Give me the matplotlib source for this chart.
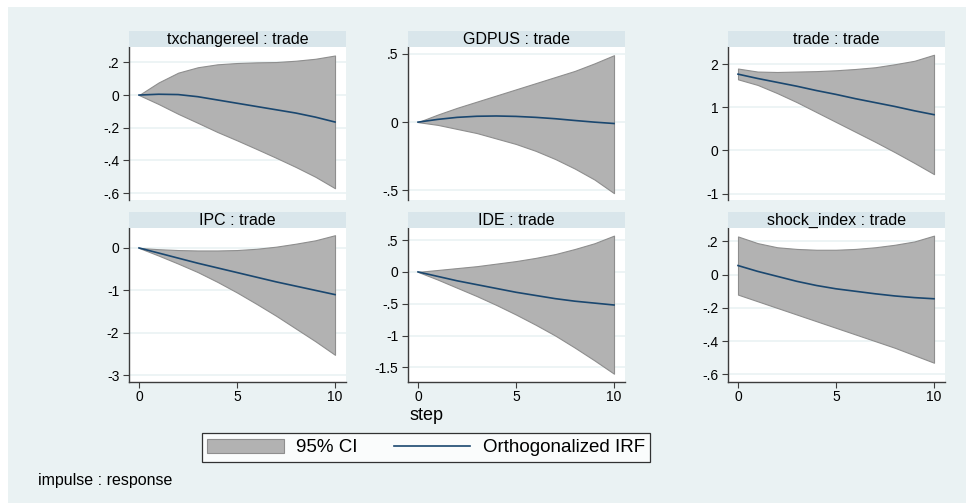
import numpy as np
import matplotlib
matplotlib.use('Agg')
import matplotlib.pyplot as plt
from matplotlib.patches import Rectangle, Patch
from matplotlib.lines import Line2D

plt.rcParams['font.family'] = ['Liberation Sans', 'DejaVu Sans']

#%% data
steps = list(range(11))
titles = ['txchangereel : trade', 'GDPUS : trade', 'trade : trade',
          'IPC : trade', 'IDE : trade', 'shock_index : trade']

txch_irf = [0, 0.005, 0.003, -0.01, -0.03, -0.05, -0.07, -0.09, -0.11, -0.135, -0.165]
txch_lo = [0, -0.055, -0.115, -0.17, -0.226, -0.277, -0.33, -0.384, -0.44, -0.5, -0.57]
txch_hi = [0, 0.077, 0.137, 0.17, 0.188, 0.196, 0.2, 0.202, 0.21, 0.222, 0.242]

gdp_irf = [0, 0.02, 0.035, 0.043, 0.045, 0.042, 0.035, 0.025, 0.012, 0.0, -0.01]
gdp_lo = [0, -0.02, -0.05, -0.08, -0.12, -0.16, -0.21, -0.27, -0.34, -0.42, -0.52]
gdp_hi = [0, 0.055, 0.105, 0.15, 0.195, 0.24, 0.285, 0.33, 0.375, 0.43, 0.49]

trade_irf = [1.77, 1.67, 1.58, 1.49, 1.39, 1.30, 1.20, 1.11, 1.02, 0.92, 0.83]
trade_lo = [1.65, 1.52, 1.33, 1.12, 0.89, 0.66, 0.43, 0.20, -0.04, -0.29, -0.55]
trade_hi = [1.90, 1.83, 1.82, 1.83, 1.84, 1.86, 1.89, 1.93, 2.00, 2.08, 2.22]

ipc_irf = [0, -0.12, -0.24, -0.36, -0.47, -0.58, -0.69, -0.80, -0.90, -1.0, -1.1]
ipc_lo = [0, -0.18, -0.37, -0.57, -0.80, -1.05, -1.32, -1.60, -1.90, -2.20, -2.52]
ipc_hi = [0, -0.03, -0.05, -0.06, -0.06, -0.05, -0.02, 0.03, 0.10, 0.18, 0.30]

ide_irf = [0, -0.07, -0.14, -0.20, -0.26, -0.32, -0.37, -0.42, -0.46, -0.49, -0.52]
ide_lo = [0, -0.12, -0.25, -0.38, -0.52, -0.67, -0.83, -1.0, -1.19, -1.39, -1.6]
ide_hi = [0, 0.03, 0.06, 0.09, 0.13, 0.17, 0.22, 0.28, 0.36, 0.45, 0.57]

shock_irf = [0.055, 0.02, -0.01, -0.04, -0.065, -0.085, -0.1, -0.115, -0.128, -0.138, -0.145]
shock_lo = [-0.12, -0.16, -0.2, -0.24, -0.28, -0.32, -0.36, -0.40, -0.44, -0.485, -0.53]
shock_hi = [0.23, 0.19, 0.165, 0.155, 0.15, 0.15, 0.155, 0.165, 0.18, 0.2, 0.235]

yticks = [[0.2, 0, -0.2, -0.4, -0.6], [0.5, 0, -0.5], [2, 1, 0, -1],
          [0, -1, -2, -3], [0.5, 0, -0.5, -1, -1.5], [0.2, 0, -0.2, -0.4, -0.6]]
yticklabels = [['.2', '0', '-.2', '-.4', '-.6'], ['.5', '0', '-.5'], ['2', '1', '0', '-1'],
               ['0', '-1', '-2', '-3'], ['.5', '0', '-.5', '-1', '-1.5'],
               ['.2', '0', '-.2', '-.4', '-.6']]
ylims = [(-0.642, 0.294), (-0.57, 0.55), (-1.15, 2.4),
         (-3.16, 0.47), (-1.73, 0.69), (-0.646, 0.281)]
xticks = [0, 5, 10]

irfs = [txch_irf, gdp_irf, trade_irf, ipc_irf, ide_irf, shock_irf]
los = [txch_lo, gdp_lo, trade_lo, ipc_lo, ide_lo, shock_lo]
his = [txch_hi, gdp_hi, trade_hi, ipc_hi, ide_hi, shock_hi]

#%% colours (stata s2color look)
bg_col = '#EAF2F3'
strip_col = '#D9E6EB'
band_col = '#B2B2B2'
band_edge = '#8E8E8E'
line_col = '#1A476F'
axis_col = '#3C3C3C'

W, H = 966, 503
fig = plt.figure(figsize=(W / 100, H / 100), dpi=100)
fig.patch.set_facecolor('white')
fig.patches.append(Rectangle((8 / W, 0), 1 - 8 / W, 1 - 7 / H, transform=fig.transFigure,
                             facecolor=bg_col, edgecolor='none', zorder=-10))

col_x = [(129, 346), (408, 625), (728, 945)]
row_y = [(47, 200), (228, 382)]
strip_h = 16

for i in range(6):
    r, c = divmod(i, 3)
    x0, x1 = col_x[c]
    yt, yb = row_y[r]
    ax = fig.add_axes([x0 / W, 1 - yb / H, (x1 - x0) / W, (yb - yt) / H])
    ax.set_facecolor('white')
    for yv in yticks[i]:
        ax.axhline(yv, color=bg_col, lw=1.2, zorder=0)
    ax.fill_between(steps, los[i], his[i], facecolor=band_col, edgecolor=band_edge,
                    lw=0.8, zorder=2)
    ax.plot(steps, irfs[i], color=line_col, lw=1.2, zorder=3)
    ax.set_xlim(-0.51, 10.56)
    ax.set_ylim(*ylims[i])
    ax.set_yticks(yticks[i])
    ax.set_yticklabels(yticklabels[i])
    for s in ['top', 'right']:
        ax.spines[s].set_visible(False)
    ax.spines['left'].set_color(axis_col)
    ax.spines['left'].set_linewidth(1.0)
    ax.tick_params(axis='y', direction='out', length=4, width=0.8, color=axis_col,
                   labelsize=10, pad=3)
    if r == 1:
        ax.spines['bottom'].set_color(axis_col)
        ax.spines['bottom'].set_linewidth(1.0)
        ax.set_xticks(xticks)
        ax.set_xticklabels([str(v) for v in xticks])
        ax.tick_params(axis='x', direction='out', length=4, width=0.8, color=axis_col,
                       labelsize=10, pad=2)
    else:
        ax.spines['bottom'].set_visible(False)
        ax.set_xticks([])

    sax = fig.add_axes([x0 / W, 1 - yt / H, (x1 - x0) / W, strip_h / H])
    sax.set_facecolor(strip_col)
    sax.set_xticks([])
    sax.set_yticks([])
    for s in sax.spines.values():
        s.set_visible(False)
    sax.text(0.5, 0.45, titles[i], ha='center', va='center', fontsize=11.5,
             transform=sax.transAxes)

fig.text(426 / W, 1 - 416 / H, 'step', ha='center', va='center', fontsize=13)

handles = [Patch(facecolor=band_col, edgecolor=band_edge, lw=0.8),
           Line2D([0], [0], color=line_col, lw=1.2)]
leg = fig.legend(handles, ['95% CI', 'Orthogonalized IRF'], loc='center',
                 bbox_to_anchor=(426 / W, 1 - 447.5 / H),
                 ncol=2, fontsize=13.5, frameon=True, fancybox=False, borderpad=0.3,
                 handlelength=4.1, handleheight=0.8, handletextpad=0.65,
                 columnspacing=1.9, borderaxespad=0)
leg.get_frame().set_edgecolor('black')
leg.get_frame().set_linewidth(0.9)
leg.get_frame().set_facecolor('white')

fig.text(38 / W, 1 - 481 / H, 'impulse : response', ha='left', va='center', fontsize=11.5)

fig.savefig('out.png', dpi=100, facecolor=fig.get_facecolor())
